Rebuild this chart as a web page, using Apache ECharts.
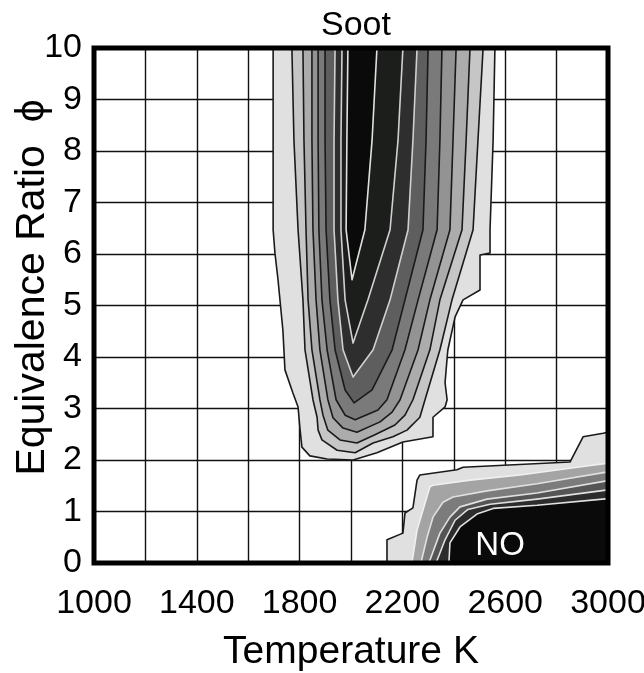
<!DOCTYPE html>
<html>
<head>
<meta charset="utf-8">
<script src="https://cdn.jsdelivr.net/npm/echarts@6/dist/echarts.min.js"></script>
<style>
html,body{margin:0;padding:0;background:#fff;}
#chart{width:644px;height:673px;}
</style>
</head>
<body>
<div id="chart"></div>
<script>
// ---- axis ticks ----
const xLabelTicks = [1000, 1400, 1800, 2200, 2600, 3000];
const yLabelTicks = [0, 1, 2, 3, 4, 5, 6, 7, 8, 9, 10];

// ---- Soot contour boundaries [T (K), phi], outermost first ----
const soot1 = [[1697,10],[1697,6.47],[1704,6.02],[1716,5.5],[1735,4.52],[1743,3.75],[1774,3.3],[1794,3.03],[1802,2.58],[1809,2.25],[1840,2.08],[1907,2.02],[2008,2.0],[2101,2.14],[2202,2.35],[2319,2.45],[2319,2.83],[2366,3.03],[2374,3.17],[2366,3.5],[2374,3.98],[2377,4.14],[2405,4.78],[2436,5.11],[2502,5.3],[2502,5.98],[2541,6.02],[2541,6.47],[2553,8.21],[2560,10]];
const soot2 = [[1770,10],[1778,8.21],[1794,6.47],[1813,5.11],[1821,4.14],[1852,3.17],[1868,2.83],[1872,2.58],[1887,2.39],[1946,2.19],[2016,2.14],[2086,2.33],[2163,2.45],[2218,2.58],[2268,2.83],[2288,3.17],[2346,4.14],[2393,5.11],[2475,6.47],[2494,8.21],[2514,10]];
const soot3 = [[1813,10],[1817,8.21],[1825,6.47],[1833,5.11],[1848,4.14],[1879,3.17],[1891,2.87],[1910,2.58],[1957,2.39],[2023,2.33],[2093,2.49],[2171,2.68],[2210,2.87],[2241,3.17],[2307,4.14],[2346,5.11],[2432,6.47],[2448,8.21],[2463,10]];
const soot4 = [[1848,10],[1848,8.21],[1852,6.47],[1864,5.11],[1879,4.14],[1910,3.17],[1930,2.82],[1969,2.62],[2023,2.54],[2113,2.74],[2160,2.93],[2191,3.17],[2261,4.14],[2307,5.11],[2385,6.47],[2397,8.21],[2409,10]];
const soot5 = [[1872,10],[1872,8.21],[1875,6.47],[1887,5.11],[1907,4.14],[1942,3.17],[1977,2.87],[2016,2.78],[2105,2.97],[2140,3.17],[2210,4.14],[2261,5.11],[2335,6.47],[2346,8.21],[2354,10]];
const soot6 = [[1899,10],[1899,8.21],[1903,6.47],[1918,5.11],[1938,4.14],[1977,3.36],[2012,3.11],[2082,3.36],[2160,4.14],[2210,5.11],[2280,6.47],[2292,8.21],[2300,10]];
const soot7 = [[1938,10],[1934,8.21],[1934,6.47],[1949,5.11],[1969,4.14],[2008,3.61],[2086,4.14],[2152,5.11],[2222,6.47],[2241,8.21],[2257,10]];
const soot8 = [[1965,10],[1961,8.21],[1961,6.47],[1977,5.11],[2008,4.27],[2066,5.11],[2152,6.47],[2183,8.21],[2202,10]];
const soot9 = [[1988,10],[1984,8.21],[1981,6.47],[2004,5.5],[2054,6.47],[2082,8.21],[2101,10]];

// ---- NO contour boundaries [T (K), phi], outermost first ----
const no1 = [[2140,0],[2140,0.45],[2202,0.58],[2210,0.97],[2241,1.07],[2257,1.61],[2268,1.71],[2412,1.81],[2436,1.86],[2852,1.96],[2903,2.45],[2981,2.52],[3000,2.54],[3000,0]];
const no2 = [[2237,0],[2257,0.64],[2307,1.48],[2319,1.51],[2463,1.61],[2658,1.71],[2852,1.84],[3000,1.94],[3000,0]];
const no3 = [[2272,0],[2296,0.5],[2319,0.89],[2358,1.18],[2397,1.28],[2529,1.4],[2724,1.54],[3000,1.77],[3000,0]];
const no4 = [[2303,0],[2346,0.58],[2385,0.89],[2424,1.09],[2529,1.24],[2724,1.36],[3000,1.6],[3000,0]];
const no5 = [[2331,0],[2366,0.45],[2405,0.83],[2455,1.04],[2541,1.14],[2724,1.24],[3000,1.42],[3000,0]];
const no6 = [[2381,0],[2385,0.39],[2424,0.7],[2490,0.95],[2553,1.06],[2724,1.12],[3000,1.25],[3000,0]];

// ---- in-plot label ----
const noLabelText = ['NO'];
const noLabelPos = [[2580, 0.33]];

// ---- styles ----
const sootBoundaries = [soot1, soot2, soot3, soot4, soot5, soot6, soot7, soot8, soot9];
const sootFills = ['#e0e0e0', '#c6c6c6', '#acacac', '#939393', '#7a7a7a', '#5e5e5e', '#2e2e2e', '#1b1e1b', '#0a0a0a'];
const sootStrokes = ['#1a1a1a', '#1a1a1a', '#1a1a1a', '#1a1a1a', '#1a1a1a', '#1a1a1a', '#d0d0d0', '#d0d0d0', '#e0e0e0'];
const noBoundaries = [no1, no2, no3, no4, no5, no6];
const noFills = ['#e0e0e0', '#a4a4a4', '#7c7c7c', '#555555', '#2c2c2c', '#0a0a0a'];
const noStrokes = ['#1a1a1a', '#f0f0f0', '#e0e0e0', '#e0e0e0', '#e0e0e0', '#e0e0e0'];

const FONT = '"Liberation Sans", Arial, sans-serif';

function contourSeries(name, boundaries, fills, strokes) {
  return {
    name: name,
    type: 'custom',
    coordinateSystem: 'cartesian2d',
    xAxisIndex: 0, yAxisIndex: 0,
    z: 2,
    silent: true,
    data: boundaries.map((b, i) => [b[0][0], b[0][1], i]),
    encode: { x: 0, y: 1 },
    renderItem: function (params, api) {
      const i = api.value(2);
      const pts = boundaries[i].map(p => api.coord(p));
      return {
        type: 'polygon',
        z2: i,
        shape: { points: pts },
        style: { fill: fills[i], stroke: strokes[i], lineWidth: 1.6, lineJoin: 'round' }
      };
    }
  };
}

const chart = echarts.init(document.getElementById('chart'), null, { renderer: 'canvas' });

const option = {
  animation: false,
  backgroundColor: '#ffffff',
  title: {
    text: 'Soot',
    left: 351, top: 4,
    textAlign: 'center',
    textStyle: { fontFamily: FONT, fontSize: 34, fontWeight: 'normal', color: '#000' }
  },
  grid: { left: 94, top: 48, width: 514, height: 515, containLabel: false, outerBoundsMode: 'none' },
  xAxis: [{
    type: 'value', min: 1000, max: 3000, interval: 200,
    name: 'Temperature K', nameLocation: 'middle', nameGap: 70, nameMoveOverlap: false,
    nameTextStyle: { fontFamily: FONT, fontSize: 39, color: '#000' },
    axisLine: { show: false }, axisTick: { show: false },
    axisLabel: {
      fontFamily: FONT, fontSize: 34, color: '#000', margin: 24,
      formatter: v => (xLabelTicks.indexOf(v) >= 0 ? String(v) : '')
    },
    splitLine: { show: true, lineStyle: { color: '#111', width: 1.4 } }
  }],
  yAxis: [{
    type: 'value', min: 0, max: 10, interval: 1,
    name: 'Equivalence Ratio  \u03D5', nameLocation: 'middle', nameGap: 41, nameRotate: 90, nameMoveOverlap: false,
    nameTextStyle: { fontFamily: FONT, fontSize: 41, color: '#000', padding: [0, 0, 0, 36] },
    axisLine: { show: false }, axisTick: { show: false },
    axisLabel: {
      fontFamily: FONT, fontSize: 34, color: '#000', margin: 12,
      formatter: v => (yLabelTicks.indexOf(v) >= 0 ? String(v) : '')
    },
    splitLine: { show: true, lineStyle: { color: '#111', width: 1.4 } }
  }],
  series: [
    contourSeries('Soot', sootBoundaries, sootFills, sootStrokes),
    contourSeries('NO', noBoundaries, noFills, noStrokes),
    {
      name: 'NO label', type: 'custom', coordinateSystem: 'cartesian2d', z: 6, silent: true,
      data: noLabelPos.map((p, i) => [p[0], p[1], i]),
      encode: { x: 0, y: 1 },
      renderItem: function (params, api) {
        const c = api.coord([api.value(0), api.value(1)]);
        return {
          type: 'text',
          x: c[0], y: c[1],
          style: {
            text: noLabelText[api.value(2)], fill: '#ffffff',
            font: '33px ' + FONT, align: 'center', verticalAlign: 'middle'
          }
        };
      }
    },
    {
      name: 'frame', type: 'custom', coordinateSystem: 'cartesian2d', z: 10, silent: true,
      data: [[1000, 0, 3000, 10]],
      renderItem: function (params, api) {
        const a = api.coord([api.value(0), api.value(3)]);
        const b = api.coord([api.value(2), api.value(1)]);
        return {
          type: 'rect',
          shape: { x: a[0], y: a[1], width: b[0] - a[0], height: b[1] - a[1] },
          style: { fill: 'none', stroke: '#000', lineWidth: 5 }
        };
      }
    }
  ]
};
chart.setOption(option);
</script>
</body>
</html>
